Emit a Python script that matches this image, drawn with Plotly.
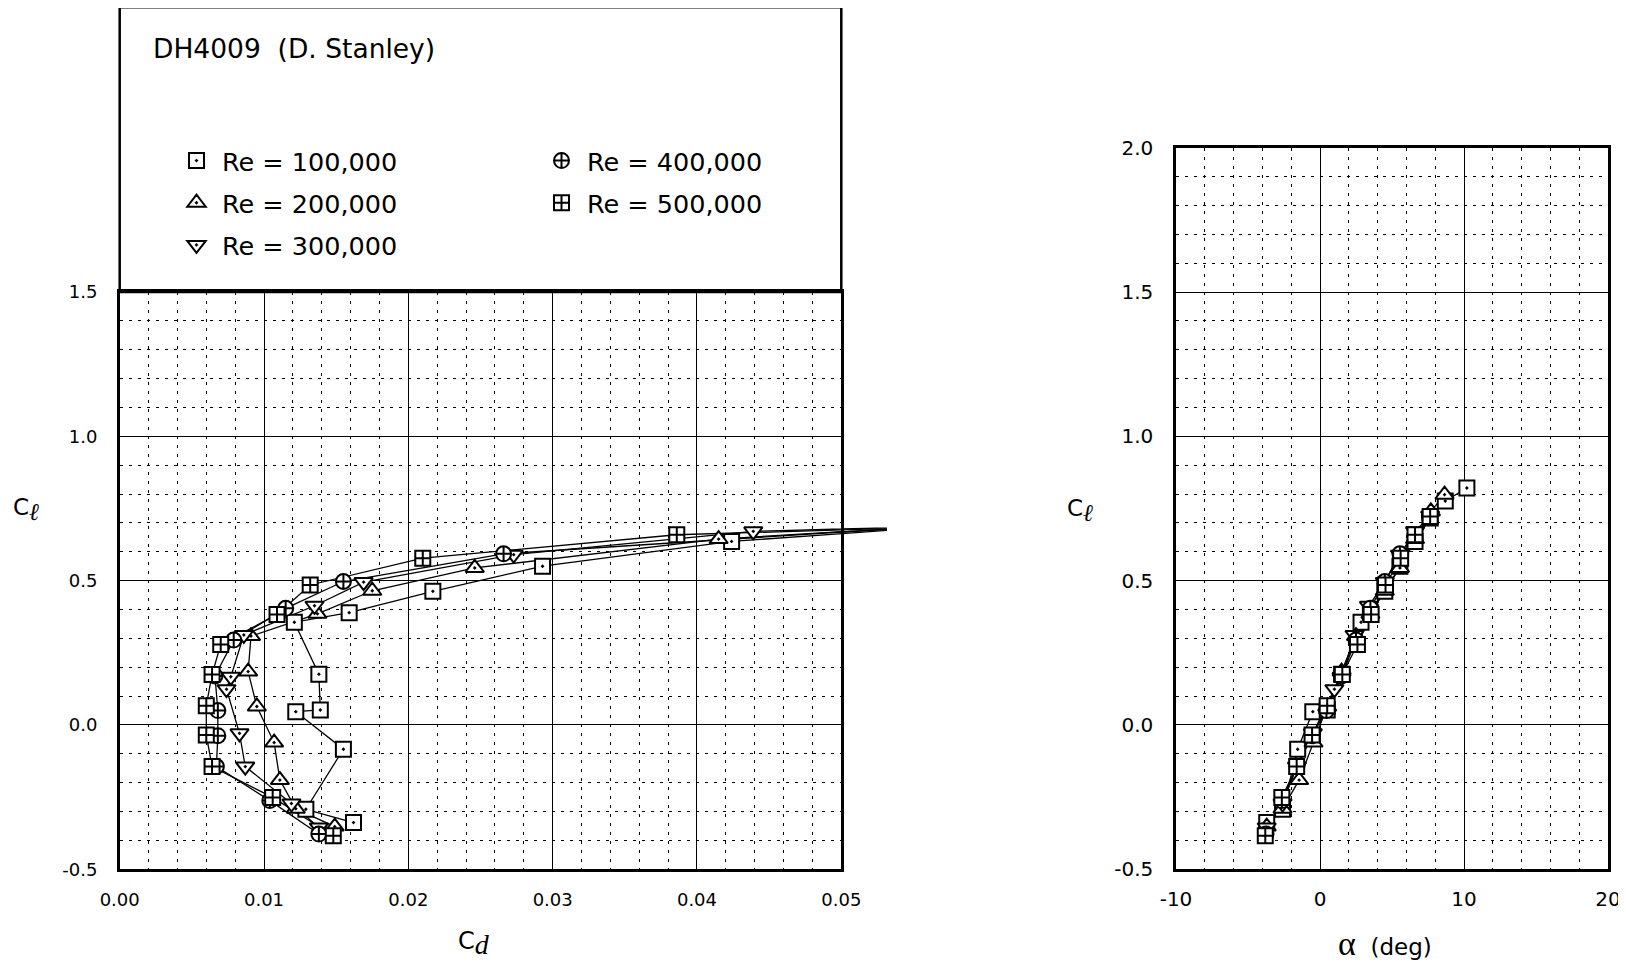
import plotly.graph_objects as go

# figure size chosen so that, with the page's 8 px body offset, it fills
# the 1626x975 window exactly without scrollbars
OFF = 8.0
W, H = 1626 - 8, 975 - 8

# ---------------- data ----------------
re_labels = ["Re = 100,000", "Re = 200,000", "Re = 300,000", "Re = 400,000", "Re = 500,000"]

alpha_100k = [-3.7, -2.6, -1.55, -0.5, 0.5, 1.5, 2.85, 3.5, 4.5, 5.55, 6.6, 7.65, 8.7, 10.2]
cl_100k = [-0.338, -0.292, -0.084, 0.046, 0.052, 0.176, 0.356, 0.389, 0.463, 0.550, 0.636, 0.717, 0.776, 0.821]
cd_100k = [0.0162, 0.0129, 0.0155, 0.0122, 0.0139, 0.0138, 0.0121, 0.0159, 0.0217, 0.0293, 0.0424, 0.065, 0.082, 0.105]

alpha_200k = [-3.7, -2.6, -1.45, -0.45, 0.5, 1.5, 2.5, 3.5, 4.5, 5.55, 6.6, 7.7, 8.65]
cl_200k = [-0.352, -0.290, -0.191, -0.061, 0.064, 0.185, 0.308, 0.385, 0.465, 0.544, 0.644, 0.740, 0.798]
cd_200k = [0.0149, 0.0122, 0.0111, 0.0107, 0.0095, 0.0089, 0.0091, 0.0137, 0.0175, 0.0246, 0.0415, 0.075, 0.092]

alpha_300k = [-3.7, -2.6, -1.6, -0.5, 1.0, 1.5, 2.4, 3.4, 4.5, 5.55, 6.6, 7.65]
cl_300k = [-0.355, -0.272, -0.144, -0.029, 0.124, 0.167, 0.312, 0.413, 0.495, 0.590, 0.671, 0.725]
cd_300k = [0.0138, 0.0119, 0.0087, 0.0083, 0.0074, 0.0077, 0.0086, 0.0135, 0.0169, 0.0273, 0.0439, 0.086]

alpha_400k = [-3.75, -2.65, -1.6, -0.55, 0.45, 1.5, 2.5, 3.5, 4.5, 5.55, 7.6]
cl_400k = [-0.378, -0.262, -0.144, -0.037, 0.050, 0.170, 0.294, 0.404, 0.497, 0.593, 0.720]
cd_400k = [0.0138, 0.0104, 0.0067, 0.0068, 0.0068, 0.0066, 0.0079, 0.0115, 0.0155, 0.0266, 0.066]

alpha_500k = [-3.8, -2.65, -1.62, -0.55, 0.5, 1.55, 2.6, 3.55, 4.55, 5.6, 6.6, 7.65]
cl_500k = [-0.384, -0.251, -0.144, -0.035, 0.067, 0.175, 0.279, 0.383, 0.485, 0.578, 0.659, 0.722]
cd_500k = [0.0148, 0.0106, 0.0064, 0.0060, 0.0060, 0.0064, 0.0070, 0.0109, 0.0132, 0.0210, 0.0386, 0.082]

# tick labels
cd_tickvals = [0.0, 0.01, 0.02, 0.03, 0.04, 0.05]
cd_ticktext = ["0.00", "0.01", "0.02", "0.03", "0.04", "0.05"]
cl_tickvals_left = [-0.5, 0.0, 0.5, 1.0, 1.5]
cl_ticktext_left = ["-0.5", "0.0", "0.5", "1.0", "1.5"]
alpha_tickvals = [-10, 0, 10, 20]
alpha_ticktext = ["-10", "0", "10", "20"]
cl_tickvals_right = [-0.5, 0.0, 0.5, 1.0, 1.5, 2.0]
cl_ticktext_right = ["-0.5", "0.0", "0.5", "1.0", "1.5", "2.0"]

title_text = "DH4009  (D. Stanley)"

# ---------------- styles ----------------
series = [
    (alpha_100k, cl_100k, cd_100k, "square-dot", 15, "legend"),
    (alpha_200k, cl_200k, cd_200k, "triangle-up-dot", 16, "legend"),
    (alpha_300k, cl_300k, cd_300k, "triangle-down-dot", 16, "legend"),
    (alpha_400k, cl_400k, cd_400k, "circle-cross", 15, "legend2"),
    (alpha_500k, cl_500k, cd_500k, "square-cross", 15, "legend2"),
]

FONT = "DejaVu Sans"


def px_x(p):
    return (p - OFF) / W


def px_y(p):
    return 1 - (p - OFF) / H


# target pixel geometry (screen coordinates)
L_X0, L_X1 = 119.7, 841.3          # left plot frame
L_Y0, L_Y1 = 869.3, 292.0          # y = -0.5 .. 1.5
L_CLIP_X1 = 887.0                  # lines run out past the frame up to here
R_X0, R_X1 = 1176.0, 1608.0
R_Y0, R_Y1 = 869.3, 147.7
BOX_TOP = 7.3
CD_MAX = 0.05
CD_CLIP = CD_MAX * (L_CLIP_X1 - L_X0) / (L_X1 - L_X0)

fig = go.Figure()

# extension of the polar lines beyond the right frame (hidden axis covering
# only the strip just right of the frame)
for (al, cl, cd, sym, ms, lg), name in zip(series, re_labels):
    fig.add_trace(go.Scatter(
        x=cd, y=cl, mode="lines", xaxis="x3", yaxis="y3",
        line=dict(color="black", width=1.3), showlegend=False, hoverinfo="skip"))

# left plot: lines first, then markers
for (al, cl, cd, sym, ms, lg), name in zip(series, re_labels):
    fig.add_trace(go.Scatter(
        x=cd, y=cl, mode="lines", xaxis="x", yaxis="y",
        line=dict(color="black", width=1.3), showlegend=False, hoverinfo="skip"))
for (al, cl, cd, sym, ms, lg), name in zip(series, re_labels):
    fig.add_trace(go.Scatter(
        x=cd, y=cl, mode="markers", xaxis="x", yaxis="y", name=name,
        legend=lg, legendgroup=name,
        marker=dict(symbol=sym, size=ms, color="white",
                    line=dict(color="black", width=2))))

# right plot
for (al, cl, cd, sym, ms, lg), name in zip(series, re_labels):
    fig.add_trace(go.Scatter(
        x=al, y=cl, mode="lines", xaxis="x2", yaxis="y2",
        line=dict(color="black", width=1.3), showlegend=False, hoverinfo="skip"))
for (al, cl, cd, sym, ms, lg), name in zip(series, re_labels):
    fig.add_trace(go.Scatter(
        x=al, y=cl, mode="markers", xaxis="x2", yaxis="y2", name=name,
        showlegend=False,
        marker=dict(symbol=sym, size=ms, color="white",
                    line=dict(color="black", width=2))))


def grid_axis(domain, rng, tickvals, ticktext, minor_dtick, minor_tick0, size, standoff, anchor):
    return dict(
        domain=domain, range=rng, anchor=anchor,
        tickmode="array", tickvals=tickvals, ticktext=ticktext,
        showgrid=True, gridcolor="black", gridwidth=1.3,
        minor=dict(tickmode="linear", dtick=minor_dtick, tick0=minor_tick0, showgrid=True,
                   gridcolor="black", gridwidth=1.3, griddash="3px,6px", ticks=""),
        showline=True, linecolor="black", linewidth=2.5, mirror=True,
        ticks="", zeroline=False, automargin=False,
        tickfont=dict(family=FONT, size=size, color="black"),
        ticklabelstandoff=standoff,
    )


legend_common = dict(xanchor="left", yanchor="top",
                     font=dict(family=FONT, size=25.5, color="black"),
                     bgcolor="rgba(0,0,0,0)", borderwidth=0, tracegroupgap=6,
                     itemwidth=41, traceorder="grouped",
                     itemclick=False, itemdoubleclick=False)

layout = dict(
    width=W, height=H,
    margin=dict(l=0, r=0, t=0, b=0, pad=0, autoexpand=False),
    paper_bgcolor="white", plot_bgcolor="white",
    xaxis=grid_axis([px_x(L_X0), px_x(L_X1)], [0, CD_MAX], cd_tickvals, cd_ticktext,
                    0.002, 0, 18, 12, "y"),
    yaxis=grid_axis([px_y(L_Y0), px_y(L_Y1)], [-0.5, 1.5], cl_tickvals_left, cl_ticktext_left,
                    0.1, 0, 18, 16, "x"),
    xaxis2=grid_axis([px_x(R_X0), px_x(R_X1)], [-10, 20], alpha_tickvals, alpha_ticktext,
                     2, 0, 20, 10, "y2"),
    yaxis2=grid_axis([px_y(R_Y0), px_y(R_Y1)], [-0.5, 2.0], cl_tickvals_right, cl_ticktext_right,
                     0.1, 0, 20, 16, "x2"),
    xaxis3=dict(domain=[px_x(L_X1 + 1.5), px_x(L_CLIP_X1)],
                range=[CD_MAX + (CD_CLIP - CD_MAX) * 1.5 / (L_CLIP_X1 - L_X1), CD_CLIP],
                visible=False, showgrid=False, zeroline=False, anchor="y3"),
    yaxis3=dict(domain=[px_y(L_Y0), px_y(L_Y1)], range=[-0.5, 1.5],
                visible=False, showgrid=False, zeroline=False, anchor="x3"),
    showlegend=True,
    legend=dict(x=px_x(171), y=px_y(137.5), **legend_common),
    legend2=dict(x=px_x(536), y=px_y(137.5), **legend_common),
    shapes=[dict(type="rect", xref="paper", yref="paper",
                 x0=px_x(L_X0), x1=px_x(L_X1), y0=px_y(L_Y1), y1=px_y(BOX_TOP),
                 line=dict(color="black", width=2.5), fillcolor="rgba(0,0,0,0)")],
    annotations=[
        dict(text=title_text, x=px_x(150.5), y=px_y(48.5), xref="paper", yref="paper",
             xanchor="left", yanchor="middle", showarrow=False,
             font=dict(family=FONT, size=26.5, color="black")),
        dict(text="C<sub><span style='font-family:Liberation Serif;font-size:24px'><i>ℓ</i></span></sub>",
             x=px_x(11), y=px_y(509), xref="paper", yref="paper",
             xanchor="left", yanchor="middle", showarrow=False,
             font=dict(family=FONT, size=23, color="black")),
        dict(text="C<sub><span style='font-family:Liberation Serif;font-size:28px'><i>d</i></span></sub>",
             x=px_x(456), y=px_y(943), xref="paper", yref="paper",
             xanchor="left", yanchor="middle", showarrow=False,
             font=dict(family=FONT, size=24, color="black")),
        dict(text="C<sub><span style='font-family:Liberation Serif;font-size:24px'><i>ℓ</i></span></sub>",
             x=px_x(1065), y=px_y(510), xref="paper", yref="paper",
             xanchor="left", yanchor="middle", showarrow=False,
             font=dict(family=FONT, size=23, color="black")),
        dict(text="<span style='font-family:Liberation Serif;font-size:34px'>α</span>  (deg)",
             x=px_x(1336), y=px_y(943), xref="paper", yref="paper",
             xanchor="left", yanchor="middle", showarrow=False,
             font=dict(family=FONT, size=23, color="black")),
    ],
)

fig.update_layout(**layout)
fig.write_html("out.html")
